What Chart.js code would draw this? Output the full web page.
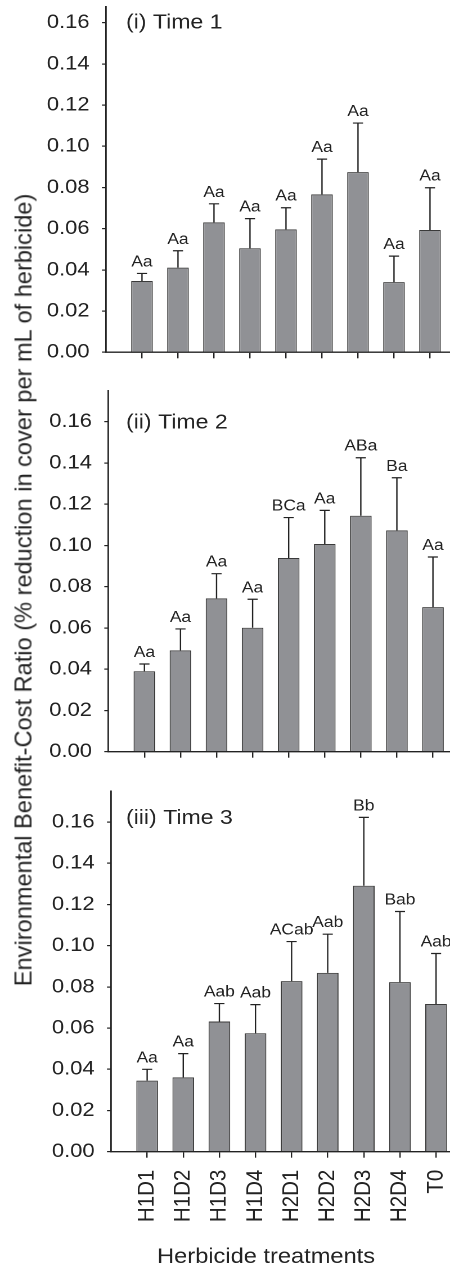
<!DOCTYPE html>
<html>
<head>
<meta charset="utf-8">
<script src="https://cdn.jsdelivr.net/npm/chart.js@4"></script>
<style>
  body { margin: 0; background: #fff; width: 450px; height: 1269px; overflow: hidden; position: relative; font-family: "Liberation Sans", Arial, sans-serif; }
  #plots { position: absolute; left: 0; top: 0; width: 400px; height: 1269px; transform: scaleX(1.125); transform-origin: 0 0; }
  #plots canvas { position: absolute; left: 0; }
  #ytitle { position: absolute; left: 23.5px; top: 590px; transform: translate(-50%, -50%) rotate(-90deg); white-space: nowrap; font-size: 23.6px; color: #222; }
</style>
</head>
<body>
<div id="plots">
  <canvas id="time1" width="400" height="370" style="top:0px"></canvas>
  <canvas id="time2" width="400" height="395" style="top:375px"></canvas>
  <canvas id="time3" width="400" height="494" style="top:775px"></canvas>
</div>
<div id="ytitle">Environmental Benefit-Cost Ratio (% reduction in cover per mL of herbicide)</div>
<script>
const treatments = ["H1D1", "H1D2", "H1D3", "H1D4", "H2D1", "H2D2", "H2D3", "H2D4", "T0"];
const yTicks = [0, 0.02, 0.04, 0.06, 0.08, 0.10, 0.12, 0.14, 0.16];

// means and standard errors
const time1Mean = [0.0346, 0.0411, 0.0631, 0.0505, 0.0597, 0.0767, 0.0875, 0.0341, 0.0594];
const time1SE   = [0.0037, 0.0082, 0.0090, 0.0144, 0.0105, 0.0171, 0.0238, 0.0126, 0.0205];
const time1Letters = ["Aa", "Aa", "Aa", "Aa", "Aa", "Aa", "Aa", "Aa", "Aa"];

const time2Mean = [0.0390, 0.0491, 0.0743, 0.0601, 0.0939, 0.1007, 0.1144, 0.1073, 0.0701];
const time2SE   = [0.0035, 0.0104, 0.0120, 0.0138, 0.0196, 0.0163, 0.0281, 0.0255, 0.0243];
const time2Letters = ["Aa", "Aa", "Aa", "Aa", "BCa", "Aa", "ABa", "Ba", "Aa"];

const time3Mean = [0.0345, 0.0361, 0.0632, 0.0575, 0.0828, 0.0868, 0.1291, 0.0823, 0.0717];
const time3SE   = [0.0055, 0.0115, 0.0087, 0.0139, 0.0192, 0.0188, 0.0332, 0.0343, 0.0245];
const time3Letters = ["Aa", "Aa", "Aab", "Aab", "ACab", "Aab", "Bb", "Bab", "Aab"];

const panelTitles = ["(i) Time 1", "(ii) Time 2", "(iii) Time 3"];
const xTitle = "Herbicide treatments";

const FONT = '"Liberation Sans", Arial, sans-serif';
const INK = "#222";

// error bars (upper only), letters and panel title
const barExtras = {
    id: "barExtras",
    afterDatasetsDraw(chart, args, opts) {
        const ctx = chart.ctx;
        const y = chart.scales.y;
        const bars = chart.getDatasetMeta(0).data;
        ctx.save();
        ctx.strokeStyle = INK;
        ctx.lineWidth = 1.2;
        ctx.fillStyle = INK;
        ctx.font = "15.5px " + FONT;
        ctx.textAlign = "center";
        ctx.textBaseline = "alphabetic";
        bars.forEach((bar, i) => {
            const top = y.getPixelForValue(opts.mean[i] + opts.se[i]);
            ctx.beginPath();
            ctx.moveTo(bar.x, bar.y);
            ctx.lineTo(bar.x, top);
            ctx.moveTo(bar.x - 4.5, top);
            ctx.lineTo(bar.x + 4.5, top);
            ctx.stroke();
            ctx.fillText(opts.letters[i], bar.x, top - 7);
        });
        ctx.font = "20.5px " + FONT;
        ctx.textAlign = "left";
        ctx.fillText(opts.title, 112, opts.titleY);
        if (opts.xTitle) {
            ctx.font = "21px " + FONT;
            ctx.textAlign = "center";
            ctx.fillText(opts.xTitle, 236.5, chart.height - 6);
        }
        ctx.restore();
    }
};

function makePanel(id, mean, se, letters, title, cfg) {
    const canvas = document.getElementById(id);
    return new Chart(canvas, {
        type: "bar",
        data: {
            datasets: [{
                data: mean.map((v, i) => ({ x: i, y: v })),
                backgroundColor: "#909195",
                borderColor: "#3a3a3a",
                borderWidth: 1,
                categoryPercentage: 1,
                barPercentage: 0.6
            }]
        },
        plugins: [barExtras],
        options: {
            responsive: false,
            animation: false,
            devicePixelRatio: 2,
            layout: { padding: { top: cfg.top, left: 0, right: 0, bottom: 0 } },
            plugins: {
                legend: { display: false },
                tooltip: { enabled: false },
                barExtras: { mean: mean, se: se, letters: letters, title: title, titleY: cfg.titleY, xTitle: cfg.xTitle }
            },
            scales: {
                x: {
                    type: "linear",
                    min: -1,
                    max: cfg.xMax,
                    offset: false,
                    afterBuildTicks: s => { s.ticks = treatments.map((t, i) => ({ value: i })); },
                    afterFit: s => { s.height = cfg.xHeight; s.paddingLeft = 0; s.paddingRight = 0; },
                    border: { color: INK, width: 1.4 },
                    grid: { offset: false, drawOnChartArea: false, drawTicks: true, tickLength: 6, color: INK, lineWidth: 1.2 },
                    ticks: {
                        display: cfg.showLabels,
                        autoSkip: false,
                        minRotation: 90,
                        maxRotation: 90,
                        padding: 12,
                        color: INK,
                        font: { family: FONT, size: 20.5 },
                        callback: v => treatments[v]
                    }
                },
                y: {
                    min: 0,
                    max: cfg.yMax,
                    afterBuildTicks: s => { s.ticks = yTicks.map(v => ({ value: v })); },
                    afterFit: s => { s.width = cfg.axisX; s.paddingTop = 0; s.paddingBottom = 0; },
                    border: { color: INK, width: 1.4 },
                    grid: { drawOnChartArea: false, drawTicks: true, tickLength: 3.6, color: INK, lineWidth: 1.2 },
                    ticks: {
                        padding: 11,
                        color: INK,
                        font: { family: FONT, size: 19.5 },
                        callback: v => v.toFixed(2)
                    }
                }
            }
        }
    });
}

makePanel("time1", time1Mean, time1SE, time1Letters, panelTitles[0],
    { top: 6.7, axisX: 94.2, xMax: 8.556, yMax: 0.1678, xHeight: 17.7, titleY: 28.3, showLabels: false });
makePanel("time2", time2Mean, time2SE, time2Letters, panelTitles[1],
    { top: 15.7, axisX: 96.3, xMax: 8.473, yMax: 0.175, xHeight: 18.3, titleY: 53.3, showLabels: false });
makePanel("time3", time3Mean, time3SE, time3Letters, panelTitles[2],
    { top: 16.2, axisX: 98.7, xMax: 8.386, yMax: 0.175, xHeight: 117.3, titleY: 49, showLabels: true, xTitle: xTitle });
</script>
</body>
</html>
